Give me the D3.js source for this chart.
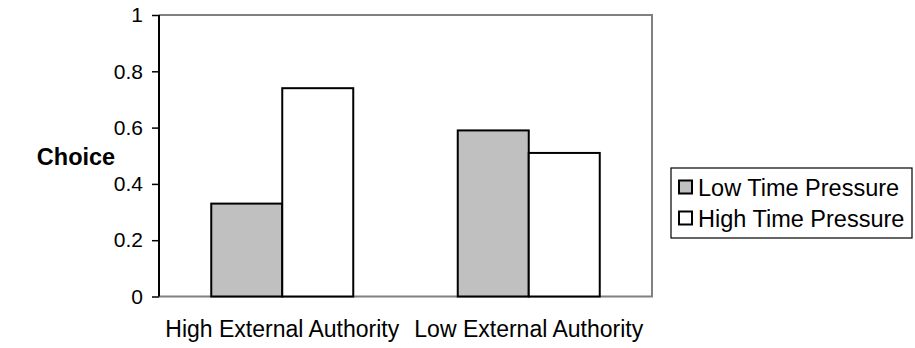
<!DOCTYPE html>
<html><head><meta charset="utf-8">
<script src="https://cdn.jsdelivr.net/npm/d3@7"></script>
<style>body{margin:0;background:#fff}svg{display:block}text{font-family:"Liberation Sans",Arial,sans-serif}</style>
</head><body>
<script>
const categories = ["High External Authority", "Low External Authority"];
const seriesNames = ["Low Time Pressure", "High Time Pressure"];
const lowTimePressure = [0.33, 0.59];
const highTimePressure = [0.74, 0.51];
const yTicks = [0, 0.2, 0.4, 0.6, 0.8, 1];
const yTickLabels = ["0", "0.2", "0.4", "0.6", "0.8", "1"];
const seriesColors = ["#c0c0c0", "#ffffff"];

const W = 915, H = 348;
const plot = {left: 159, right: 652, top: 15, bottom: 296.5};
const svg = d3.select("body").append("svg").attr("width", W).attr("height", H);

const x0 = d3.scaleBand().domain(categories).range([plot.left, plot.right]);
const x1 = d3.scaleBand().domain(seriesNames).range([0, 142]);
const y = d3.scaleLinear().domain([0, 1]).range([plot.bottom, plot.top]);

svg.append("path")
  .attr("d", `M${plot.left},${plot.top}H${plot.right}V${plot.bottom}H${plot.left}`)
  .attr("fill", "none").attr("stroke", "#808080").attr("stroke-width", 2);

const data = categories.map((c, i) => ({c, vals: [lowTimePressure[i], highTimePressure[i]]}));
const g = svg.append("g");
data.forEach(d => {
  const cx = x0(d.c) + x0.bandwidth() / 2 - 71;
  d.vals.forEach((v, j) => {
    g.append("rect")
      .attr("x", cx + x1(seriesNames[j]))
      .attr("y", y(v))
      .attr("width", x1.bandwidth())
      .attr("height", y(0) - y(v))
      .attr("fill", seriesColors[j])
      .attr("stroke", "#000").attr("stroke-width", 2);
  });
});

const yAxis = d3.axisLeft(y).tickValues(yTicks).tickFormat((d, i) => yTickLabels[i]).tickSize(7).tickPadding(9);
const ya = svg.append("g").attr("transform", `translate(${plot.left},0)`).call(yAxis);
ya.select(".domain").attr("stroke", "#000").attr("stroke-width", 2).attr("d", `M0,${plot.top}V${plot.bottom}`);
ya.selectAll(".tick line").attr("stroke", "#000").attr("stroke-width", 1.5);
ya.selectAll(".tick text").attr("font-size", 21).attr("fill", "#000").attr("font-family", "Liberation Sans, Arial, sans-serif");

const xa = svg.append("g").attr("transform", `translate(0,${plot.bottom})`).call(d3.axisBottom(x0).tickSize(0).tickPadding(0));
xa.select(".domain").remove();
xa.selectAll(".tick text").attr("font-size", 23).attr("fill", "#000").attr("dy", 0).attr("y", 40)
  .attr("font-family", "Liberation Sans, Arial, sans-serif");

svg.append("text").attr("x", 76).attr("y", 165).attr("text-anchor", "middle")
  .attr("font-size", 23.5).attr("font-weight", "bold").text("Choice");

const lg = svg.append("g");
lg.append("rect").attr("x", 671).attr("y", 168).attr("width", 241).attr("height", 70)
  .attr("fill", "#fff").attr("stroke", "#000").attr("stroke-width", 1.2);
seriesNames.forEach((s, i) => {
  const yy = 187 + i * 31;
  lg.append("rect").attr("x", 679).attr("y", yy - 6.5).attr("width", 13).attr("height", 13)
    .attr("fill", seriesColors[i]).attr("stroke", "#000").attr("stroke-width", 2);
  lg.append("text").attr("x", 698).attr("y", yy + 8.5).attr("font-size", 23.5).text(s);
});
</script>
</body></html>
